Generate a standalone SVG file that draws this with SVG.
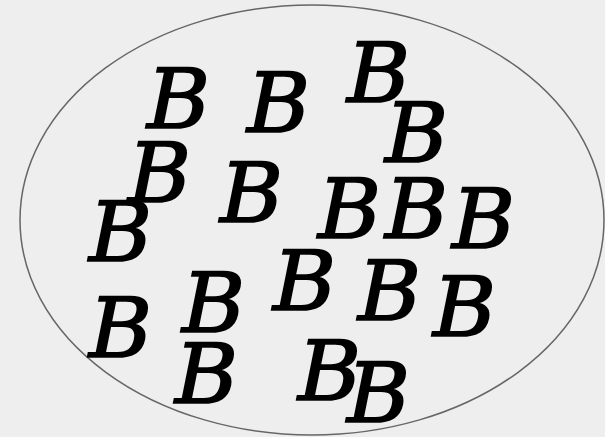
<svg xmlns="http://www.w3.org/2000/svg" width="605" height="437" viewBox="0 0 605 437">
<style>
.b{font-family:"DejaVu Serif",serif;font-style:italic;font-size:83px;fill:#000;stroke:#000;stroke-width:1.7px}
</style>
<rect width="605" height="437" fill="#eeeeee"/>
<g id="set">
<ellipse cx="312" cy="220" rx="292" ry="215" fill="none" stroke="#666666" stroke-width="1.5"/>
</g>
<g id="elements">
<text class="b" x="147" y="128" textLength="63" lengthAdjust="spacingAndGlyphs">B</text>
<text class="b" x="247" y="132" textLength="63" lengthAdjust="spacingAndGlyphs">B</text>
<text class="b" x="347" y="102" textLength="63" lengthAdjust="spacingAndGlyphs">B</text>
<text class="b" x="385" y="162" textLength="63" lengthAdjust="spacingAndGlyphs">B</text>
<text class="b" x="128" y="202" textLength="63" lengthAdjust="spacingAndGlyphs">B</text>
<text class="b" x="89" y="261" textLength="63" lengthAdjust="spacingAndGlyphs">B</text>
<text class="b" x="220" y="222" textLength="63" lengthAdjust="spacingAndGlyphs">B</text>
<text class="b" x="318" y="238" textLength="63" lengthAdjust="spacingAndGlyphs">B</text>
<text class="b" x="385" y="238" textLength="63" lengthAdjust="spacingAndGlyphs">B</text>
<text class="b" x="452" y="248" textLength="63" lengthAdjust="spacingAndGlyphs">B</text>
<text class="b" x="89" y="357" textLength="63" lengthAdjust="spacingAndGlyphs">B</text>
<text class="b" x="182" y="332" textLength="63" lengthAdjust="spacingAndGlyphs">B</text>
<text class="b" x="273" y="310" textLength="63" lengthAdjust="spacingAndGlyphs">B</text>
<text class="b" x="358" y="320" textLength="63" lengthAdjust="spacingAndGlyphs">B</text>
<text class="b" x="433" y="336" textLength="63" lengthAdjust="spacingAndGlyphs">B</text>
<text class="b" x="175" y="403" textLength="63" lengthAdjust="spacingAndGlyphs">B</text>
<text class="b" x="298" y="400" textLength="63" lengthAdjust="spacingAndGlyphs">B</text>
<text class="b" x="347" y="422" textLength="63" lengthAdjust="spacingAndGlyphs">B</text>
</g>
</svg>
